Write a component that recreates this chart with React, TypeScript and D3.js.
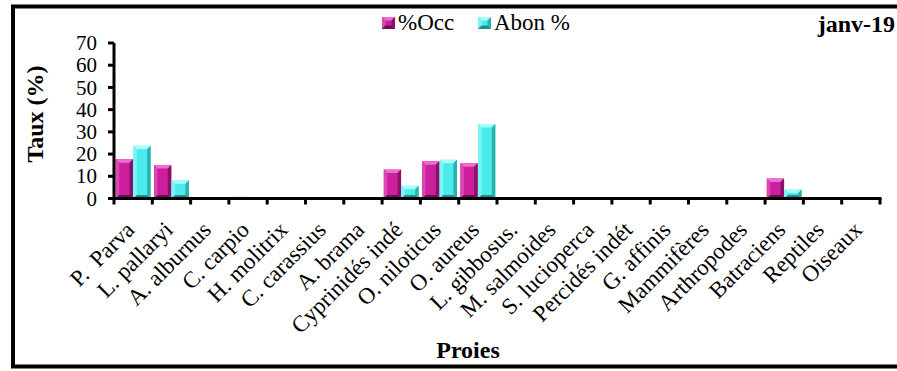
import React from "react";
import * as d3 from "d3";

const categories = [
  "P.  Parva", "L. pallaryi", "A. alburnus", "C. carpio", "H. molitrix", "C. carassius",
  "A. brama", "Cyprinidés indé", "O. niloticus", "O. aureus", "L. gibbosus.", "M. salmoides",
  "S. lucioperca", "Percidés indét", "G. affinis", "Mammifères", "Arthropodes", "Batraciens",
  "Reptiles", "Oiseaux",
];
const occ = [17.7, 15.1, 0, 0.7, 0, 0.6, 0, 13, 16.8, 15.9, 0, 0, 0, 0.6, 0.6, 0, 0, 9, 0, 0];
const abon = [23.7, 8.2, 0, 0, 0, 0, 0, 5.7, 17.4, 33.5, 0, 0, 0, 0, 0.3, 0, 0, 4, 0, 0];
const seriesNames = ["%Occ", "Abon %"];
const yTicks = [0, 10, 20, 30, 40, 50, 60, 70];
const title = "janv-19";

const W = 897, H = 371;
const FONT = "Liberation Serif, Times New Roman, DejaVu Serif, serif";

const palettes = [
  { face: "#CC1F9E", light: "#F26BD0", lightSide: "#DD45B4", dark: "#861466", darker: "#6E0F54" },
  { face: "#4CEBEB", light: "#A6FFFF", lightSide: "#7AF5F5", dark: "#2EAFAF", darker: "#238C8C" },
];

function Bar({ x, y, w, h, p }: { x: number; y: number; w: number; h: number; p: typeof palettes[0] }) {
  if (h <= 0) return null;
  const b = Math.min(3.5, h / 2, w / 2);
  const x1 = x + w, y1 = y + h;
  return (
    <g>
      <rect x={x} y={y} width={w} height={h} fill={p.face} />
      <polygon points={`${x},${y} ${x1},${y} ${x1 - b},${y + b} ${x + b},${y + b}`} fill={p.light} />
      <polygon points={`${x},${y} ${x + b},${y + b} ${x + b},${y1 - b} ${x},${y1}`} fill={p.lightSide} />
      <polygon points={`${x1},${y} ${x1},${y1} ${x1 - b},${y1 - b} ${x1 - b},${y + b}`} fill={p.dark} />
      <polygon points={`${x},${y1} ${x1},${y1} ${x1 - b},${y1 - b} ${x + b},${y1 - b}`} fill={p.darker} />
    </g>
  );
}

export default function App() {
  const x0 = 114, x1 = 880, yBase = 198.5, yTop = 43;
  const x = d3.scaleBand<string>().domain(categories).range([x0, x1]).paddingInner(0.07).paddingOuter(0.035);
  const xs = d3.scaleBand<string>().domain(seriesNames).range([0, x.bandwidth()]).padding(0.02);
  const y = d3.scaleLinear().domain([0, 70]).range([yBase, yTop]);
  const step = x.step();
  const gap = step - x.bandwidth();
  const boundaries = categories.map((c) => (x(c) as number) - gap / 2);
  boundaries.push((x(categories[categories.length - 1]) as number) + x.bandwidth() + gap / 2);
  const data = [occ, abon];

  return (
    <svg width={W} height={H} style={{ position: "absolute", left: 0, top: 0, background: "#fff" }}>
      <rect x={0} y={0} width={W} height={H} fill="#fff" />
      {/* frame */}
      <rect x={13} y={6.5} width={W + 10} height={360} fill="none" stroke="#000" strokeWidth={4} />

      {/* bars */}
      {categories.map((c, i) =>
        data.map((s, k) => {
          const v = s[i];
          const bx = (x(c) as number) + (xs(seriesNames[k]) as number);
          return <Bar key={`${i}-${k}`} x={bx} y={y(v)} w={xs.bandwidth()} h={yBase - y(v)} p={palettes[k]} />;
        })
      )}

      {/* y axis */}
      <line x1={x0} x2={x0} y1={yTop} y2={yBase + 1.5} stroke="#000" strokeWidth={3} />
      {yTicks.map((t) => (
        <g key={t}>
          <line x1={x0 - 6} x2={x0} y1={y(t)} y2={y(t)} stroke="#000" strokeWidth={3} />
          <text x={97} y={y(t)} dy="0.34em" textAnchor="end" fontFamily={FONT} fontSize={21}>
            {t}
          </text>
        </g>
      ))}

      {/* x axis */}
      <line x1={x0 - 1.5} x2={x1 + 1.5} y1={yBase} y2={yBase} stroke="#000" strokeWidth={3} />
      {boundaries.map((bx, i) => (
        <line key={i} x1={bx} x2={bx} y1={yBase} y2={yBase + 6} stroke="#000" strokeWidth={3} />
      ))}
      {categories.map((c) => {
        const cx = (x(c) as number) + x.bandwidth() / 2;
        return (
          <text
            key={c}
            transform={`translate(${cx - 3},${yBase + 27}) rotate(-45)`}
            textAnchor="end"
            dy="0.35em"
            fontFamily={FONT}
            fontSize={23}
            style={{ whiteSpace: "pre" }}
          >
            {c}
          </text>
        );
      })}

      {/* axis titles */}
      <text x={468} y={358} textAnchor="middle" fontFamily={FONT} fontSize={24} fontWeight="bold">
        Proies
      </text>
      <text transform={`translate(43,114) rotate(-90)`} textAnchor="middle" fontFamily={FONT} fontSize={24} fontWeight="bold">
        Taux (%)
      </text>

      {/* title */}
      <text x={895} y={32} textAnchor="end" fontFamily={FONT} fontSize={24} fontWeight="bold">
        {title}
      </text>

      {/* legend */}
      {seriesNames.map((n, k) => {
        const lx = [382, 478][k];
        return (
          <g key={n}>
            <Bar x={lx} y={17} w={13} h={12} p={palettes[k]} />
            <text x={lx + 16} y={30} fontFamily={FONT} fontSize={23}>
              {n}
            </text>
          </g>
        );
      })}
    </svg>
  );
}
